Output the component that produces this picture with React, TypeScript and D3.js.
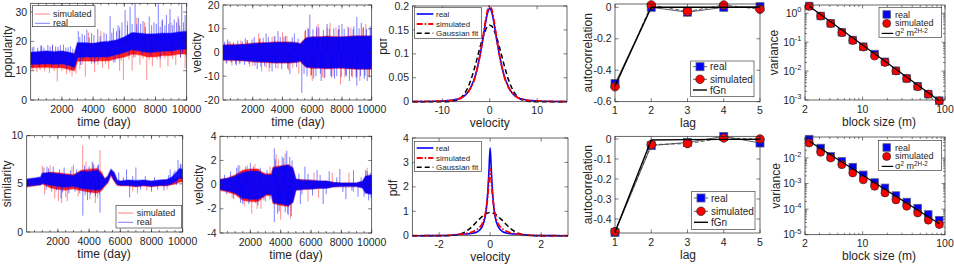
import React from "react";
import * as d3 from "d3";

const FONT = "'Liberation Sans', Arial, Helvetica, sans-serif";
const INK = "#262626";
const BLUE = "#0000ff";
const RED = "#ff0000";

// ---------- row 1, popularity time series (band extents + spikes)
const popT = [0, 500, 1000, 1500, 2000, 2500, 2800, 3000, 3500, 4000, 4500, 5000, 5500, 6000, 6500, 7000, 7500, 8000, 8500, 9000, 9500, 10000];
const popRealHi = [16.3, 16.5, 16.7, 16.5, 16.7, 16.2, 15.8, 19.5, 19.5, 19.3, 19.8, 20.0, 20.5, 21.5, 23.0, 22.8, 22.5, 22.6, 22.8, 22.8, 23.2, 23.5];
const popRealLo = [12.2, 12.2, 12.4, 12.2, 12.4, 11.8, 11.2, 14.5, 14.7, 14.7, 14.7, 14.8, 15.5, 16.2, 17.2, 16.7, 16.2, 16.4, 16.7, 16.7, 17.2, 17.4];
const popSimHi = [16.0, 16.3, 16.5, 16.3, 16.5, 16.0, 15.5, 19.3, 19.3, 19.2, 19.6, 19.8, 20.2, 21.2, 22.6, 22.5, 22.2, 22.2, 22.5, 22.5, 22.6, 23.0];
const popSimLo = [11.0, 11.1, 11.2, 11.0, 11.0, 10.4, 10.0, 13.2, 13.4, 13.2, 13.4, 13.4, 14.2, 14.7, 15.7, 15.4, 14.7, 14.8, 15.2, 15.2, 15.7, 15.7];
const popRealSpikes = [
  [200, 18.2], [700, 18.5], [1100, 18.8], [1600, 18.3], [2100, 18.9], [2400, 18.0], [3050, 23.5], [3300, 22.5],
  [3600, 24.0], [3900, 22.8], [4300, 24.2], [4700, 23.0], [5090, 28.6], [5300, 24.5], [5600, 25.5], [5850, 26.5],
  [6050, 30.7], [6370, 31.8], [6690, 33], [6900, 28], [7200, 27], [7600, 28.5], [7900, 26.5], [8180, 33],
  [8450, 27.5], [8700, 29], [8930, 31], [9200, 27.5], [9450, 28.5], [9680, 33], [9900, 29],
  [100, 18], [450, 17.8], [650, 18.6], [850, 17.9], [1250, 18.2], [1400, 19], [1750, 18.1], [1900, 18.7],
  [2250, 17.9], [2550, 18.3], [2700, 17.5], [3150, 21.5], [3450, 22], [3750, 21.3], [4050, 22.2], [4450, 21.8],
  [4850, 22.5], [5200, 23], [5500, 23.5], [5700, 24], [6200, 25.5], [6500, 26], [6800, 25.8], [7050, 26],
  [7350, 25], [7750, 25.5], [8050, 26], [8300, 25], [8600, 25.5], [8850, 26], [9100, 25.5], [9350, 26.5],
  [9550, 25.5], [9800, 26.5],
  [3200, 12.0], [4100, 12.5], [5400, 12.8], [6600, 14.5], [8300, 14.0], [9600, 14.5],
  [150, 11], [550, 11.2], [950, 11.3], [1350, 11], [1800, 11.2], [2300, 10.8], [2650, 10.3], [3350, 13.5],
  [3850, 13.3], [4350, 13.6], [4900, 13.8], [5650, 14.5], [6300, 15.2], [7150, 15.5], [7700, 15], [8550, 15.6],
  [9050, 15.5], [9750, 16],
];
const popSimSpikes = [
  [400, 9.5], [1200, 9.2], [1700, 6.3], [2300, 8.8], [2650, 8.0], [3150, 10.5], [3500, 8.0], [4100, 9.5],
  [4600, 11.0], [5000, 10.5], [5700, 10.0], [5940, 6.8], [6500, 10.0], [7000, 12.0], [7440, 6.8], [7800, 11.5],
  [8300, 11.0], [8800, 11.5], [9300, 12.0], [9900, 10.8],
  [100, 10], [600, 10.2], [900, 9.8], [1500, 10], [2000, 9.9], [2500, 9.4], [2900, 9], [3300, 12],
  [3900, 12.2], [4300, 12], [4800, 12.4], [5300, 12.8], [5800, 13.2], [6300, 13.8], [6700, 14.5], [7200, 14],
  [7600, 13.6], [8100, 13.8], [8600, 14.2], [9100, 14.0], [9600, 14.5], [9950, 14.8],
  [1400, 18.5], [3700, 23.0], [4500, 23.5], [5700, 25.0], [6200, 27.0], [6800, 28.0], [7300, 26.5], [8400, 27.0],
  [9000, 26.5], [9500, 27.5],
];

// ---------- row 1, velocity time series
const vel1T = [0, 500, 1000, 1500, 2000, 2500, 3000, 3500, 4000, 4500, 5000, 5200, 5400, 5600, 6000, 6500, 7000, 7500, 8000, 8500, 9000, 9500, 10000];
const vel1RealHi = [3.0, 3.1, 3.2, 3.4, 3.7, 3.9, 4.0, 4.2, 4.2, 4.2, 3.9, 3.5, 4.8, 6.0, 6.4, 6.4, 6.6, 6.4, 6.4, 6.6, 6.8, 6.8, 6.8];
const vel1RealLo = [-3.0, -3.1, -3.2, -3.4, -3.7, -3.9, -4.0, -4.2, -4.2, -4.2, -3.9, -3.5, -4.8, -6.0, -6.4, -6.4, -6.6, -6.4, -6.4, -6.6, -6.8, -6.8, -6.8];
const vel1SimHi = [3.2, 3.3, 3.4, 3.6, 3.9, 4.1, 4.2, 4.4, 4.4, 4.4, 4.1, 3.7, 5.0, 6.2, 6.6, 6.6, 6.8, 6.6, 6.6, 6.8, 7.0, 7.0, 7.0];
const vel1SimLo = [-3.2, -3.3, -3.4, -3.6, -3.9, -4.1, -4.2, -4.4, -4.4, -4.4, -4.1, -3.7, -5.0, -6.2, -6.6, -6.6, -6.8, -6.6, -6.6, -6.8, -7.0, -7.0, -7.0];
const vel1RealSpikes = [
  [300, 5.5], [900, -5.5], [1500, 6.0], [2100, 6.5], [2300, -7.0], [2900, 8.0], [3300, -8.0], [3700, 9.0],
  [4200, 7.0], [4500, -9.0], [4800, 8.0], [5300, -17.0], [5840, 16.0], [6100, -11.0], [6300, 11.0], [6600, -12.0],
  [7000, 12.0], [7300, -10.5], [7500, -11.0], [7800, 11.5], [8000, 12.0], [8300, -10.0], [8500, -12.0], [8800, 11.0],
  [9000, 15.0], [9000, -14.0], [9300, 12.5], [9500, -11.0], [9700, -12.0], [9900, 11.0],
  [100, 4.5], [250, -4.6], [400, 4.8], [550, -4.2], [700, 4.3], [850, -4.9], [1000, 5], [1150, -4.5],
  [1300, 4.6], [1450, -5.2], [1650, 5.1], [1750, -4.8], [1950, 5.5], [2150, -5.6], [2450, 5.8], [2550, -6],
  [2700, 6.2], [2800, -5.8], [3050, 6.5], [3150, -6.4], [3450, 6.8], [3550, -6.6], [3850, 6.5], [3950, -7],
  [4100, 6.6], [4350, -6.8], [4650, 6.4], [4950, -6.2], [5050, 5.8],
  [5450, -9], [5550, 9.5], [5650, -10], [5750, 10], [5950, -9.5], [6050, 9.8], [6250, -10], [6450, 10.5],
  [6550, -9], [6750, 9.5], [6850, -10.5], [7150, 10], [7250, -9.8], [7450, 10.2], [7650, -10], [7750, 9.6],
  [7950, -10.4], [8150, 10], [8250, -9.5], [8450, 10.5], [8650, -10], [8750, 9.8], [8950, -10.5], [9150, 10.2],
  [9250, -10], [9450, 10.6], [9550, -9.8], [9650, 10], [9850, -10.5], [9950, 10],
];
const vel1SimSpikes = [
  [600, -5.5], [1200, 5.0], [1800, -6.0], [2400, 8.0], [2600, -8.0], [3100, -8.0], [3500, 7.0], [4000, 8.5],
  [4400, -7.5], [5100, -9.0], [5700, 10.5], [6000, -12.0], [6400, 12.0], [6800, -11.0], [7200, 12.5], [7600, 10.5],
  [7900, -13.5], [8400, 11.0], [8700, -10.5], [9200, -12.0], [9600, 12.0], [9800, -10.0],
  [200, -4.6], [500, 4.5], [1100, -5], [1600, 5.2], [2000, -5.6], [2500, 6], [2900, -6.5], [3300, 6.6],
  [3700, -6.8], [4300, 6.9], [4700, -6.5], [5500, 9], [5900, -10], [6300, 10], [6700, -10.5], [7000, 10.5],
  [7400, -10], [7800, 10], [8200, -10.5], [8600, 10.5], [9000, -10], [9400, 10.5],
];

// ---------- row 2, similarity time series
const simT = [0, 500, 900, 1000, 1500, 2000, 2500, 3000, 3500, 4000, 4500, 4800, 5000, 5200, 5400, 5600, 5800, 6000, 6500, 7000, 7500, 8000, 8500, 9000, 9300, 9600, 9800, 10000];
const simRealHi = [5.5, 5.6, 5.7, 6.1, 6.15, 6.05, 5.95, 5.85, 6.3, 6.25, 6.4, 6.0, 5.5, 5.8, 6.5, 6.2, 5.4, 5.3, 5.4, 5.35, 5.4, 5.3, 5.4, 5.45, 5.7, 6.2, 6.6, 6.5];
const simRealLo = [4.75, 4.85, 4.9, 5.05, 4.85, 4.75, 4.65, 4.75, 4.55, 4.45, 4.35, 4.5, 4.85, 5.2, 6.0, 5.4, 4.95, 4.85, 4.85, 4.75, 4.85, 4.75, 4.85, 4.85, 5.0, 5.3, 5.6, 5.5];
const simSimHi = [5.4, 5.5, 5.6, 6.05, 6.2, 6.15, 6.05, 5.95, 6.4, 6.5, 6.6, 6.2, 5.5, 5.7, 6.4, 6.1, 5.3, 5.2, 5.3, 5.2, 5.3, 5.2, 5.3, 5.4, 5.5, 5.6, 5.8, 5.7];
const simSimLo = [4.7, 4.8, 4.9, 5.0, 4.6, 4.45, 4.35, 4.5, 4.3, 4.15, 4.05, 4.3, 4.75, 5.1, 5.9, 5.3, 4.85, 4.8, 4.8, 4.7, 4.8, 4.7, 4.8, 4.8, 4.9, 5.0, 5.2, 5.2];
const simRealSpikes = [
  [3600, 1.7], [4700, 2.0], [6600, 3.6], [6400, 6.5], [7000, 6.7], [9700, 7.5], [9200, 6.5], [9900, 7.0],
  [1300, 6.8], [2200, 3.5], [3900, 3.3], [4200, 7.3], [4600, 7.0], [8000, 4.2], [8800, 4.3], [5900, 6.2],
  [1100, 6.7], [1250, 4.4], [1400, 6.6], [1600, 4.2], [1700, 6.8], [1900, 4.3], [2100, 6.5], [2300, 4.1],
  [2400, 6.7], [2700, 4.0], [2800, 6.4], [3100, 4.2], [3200, 6.5], [3400, 4.0], [3700, 6.9], [3750, 3.8],
  [4000, 6.8], [4100, 3.9], [4300, 7.0], [4400, 3.7], [4550, 6.9], [4650, 3.9], [6200, 5.7], [6800, 5.8],
  [7300, 4.4], [7600, 5.8], [8200, 5.7], [8400, 4.4], [9100, 5.9], [9500, 6.4], [9600, 4.9], [9850, 7.1],
];
const simSimSpikes = [
  [3590, 9.0], [4700, 8.5], [2030, 3.2], [2240, 3.0], [1800, 3.5], [2600, 3.2], [4400, 3.0], [1000, 6.9],
  [3000, 7.0], [3800, 7.3], [6800, 4.2], [7100, 4.0], [9400, 6.2],
  [1150, 3.9], [1500, 6.9], [2500, 3.6], [2900, 6.8], [3300, 3.7], [4050, 3.4], [4250, 7.2], [4550, 3.5],
  [7700, 4.3], [9000, 4.4],
];

// ---------- row 2, velocity time series
const vel2T = [0, 500, 1000, 1500, 2000, 2500, 2800, 3000, 3400, 3500, 4000, 4500, 4800, 5000, 5500, 6000, 6500, 7000, 7500, 8000, 8500, 9000, 9400, 9600, 10000];
const vel2RealHi = [0.4, 0.5, 0.7, 1.0, 1.1, 1.1, 0.9, 0.8, 0.8, 1.35, 1.5, 1.6, 1.35, 0.45, 0.35, 0.35, 0.3, 0.3, 0.18, 0.14, 0.14, 0.14, 0.28, 0.7, 0.8];
const vel2RealLo = [-0.4, -0.5, -0.7, -1.1, -1.2, -1.2, -1.0, -0.8, -0.8, -1.45, -1.6, -1.7, -1.45, -0.45, -0.35, -0.35, -0.3, -0.3, -0.18, -0.14, -0.14, -0.14, -0.28, -0.7, -0.8];
const vel2SimHi = [0.45, 0.55, 0.8, 1.2, 1.3, 1.3, 1.0, 0.9, 0.9, 1.45, 1.55, 1.65, 1.4, 0.45, 0.4, 0.35, 0.3, 0.28, 0.18, 0.14, 0.14, 0.14, 0.24, 0.65, 0.75];
const vel2SimLo = [-0.45, -0.6, -0.8, -1.3, -1.4, -1.4, -1.1, -0.9, -0.9, -1.55, -1.7, -1.8, -1.45, -0.45, -0.4, -0.35, -0.3, -0.28, -0.18, -0.14, -0.14, -0.14, -0.24, -0.65, -0.75];
const vel2RealSpikes = [
  [3580, 3.0], [3580, -3.1], [4400, 2.8], [4500, -2.5], [4700, -2.6], [4100, 2.3], [3800, -2.4], [2000, 1.8],
  [1500, -1.6], [2500, -1.7], [1200, 1.6], [5600, 1.5], [5300, -1.6], [6800, -1.6], [6400, 1.2], [7200, 1.1],
  [7900, 1.3], [8300, -1.2], [8800, 1.2], [9100, -1.0], [9600, 1.2], [9800, -1.3], [9900, 1.0],
  [300, 0.8], [450, -0.8], [700, 1.1], [900, -1.2], [1100, 1.4], [1350, -1.5], [1700, 1.5], [1900, -1.6],
  [2200, 1.5], [2350, -1.5], [2650, 1.4], [2900, -1.3], [3100, 1.2], [3300, -1.2], [3650, 2.1], [3900, -2.2],
  [4200, 2.2], [4300, -2.3], [4600, 2.3], [4750, 2.0], [5200, 0.9], [5400, -0.8], [5800, 0.9], [6100, -0.9],
  [6600, 0.8], [7000, -0.8], [7700, 0.6], [8100, -0.6], [8700, -0.5], [9300, 0.6], [9500, -1.0], [9700, 1.1],
  [9950, -1.1],
];
const vel2SimSpikes = [
  [2090, -2.4], [2700, -2.0], [1800, 1.6], [3300, 1.5], [3700, 2.5], [4000, -2.9], [4300, 2.6], [4650, -2.8],
  [5800, -1.4], [6500, -1.1], [7400, 1.0], [8500, 1.0], [9700, 1.4],
  [800, -1.1], [1300, 1.6], [1600, -1.8], [2300, 1.7], [2450, -2.0], [3000, -1.4], [3850, 2.1], [4450, -2.4],
  [6200, 1.0], [8800, -0.6],
];

// ---------- pdfs
const pdf1X = [-16.3, -14, -12, -10, -8, -7, -6, -5, -4, -3, -2.5, -2, -1.5, -1, -0.5, 0, 0.5, 1, 1.5, 2, 2.5, 3, 4, 5, 6, 7, 8, 10, 12, 14, 16.3];
const pdf1Real = [0.0003, 0.0005, 0.0008, 0.0015, 0.003, 0.005, 0.008, 0.015, 0.03, 0.056, 0.076, 0.1, 0.127, 0.158, 0.184, 0.195, 0.184, 0.158, 0.127, 0.1, 0.076, 0.056, 0.03, 0.015, 0.008, 0.005, 0.003, 0.0015, 0.0008, 0.0005, 0.0003];
const pdf1Sim = [0.0003, 0.0005, 0.0008, 0.0015, 0.003, 0.005, 0.008, 0.016, 0.029, 0.054, 0.075, 0.1, 0.13, 0.163, 0.19, 0.2, 0.19, 0.163, 0.13, 0.1, 0.075, 0.054, 0.029, 0.016, 0.008, 0.005, 0.003, 0.0015, 0.0008, 0.0005, 0.0003];
const pdf1Gauss = [0, 0, 0, 0, 0.001, 0.003, 0.009, 0.022, 0.045, 0.078, 0.097, 0.116, 0.133, 0.147, 0.157, 0.16, 0.157, 0.147, 0.133, 0.116, 0.097, 0.078, 0.045, 0.022, 0.009, 0.003, 0.001, 0, 0, 0, 0];

const pdf2X = [-3.05, -2.5, -2, -1.5, -1.2, -1, -0.8, -0.6, -0.5, -0.4, -0.3, -0.2, -0.15, -0.1, -0.05, 0, 0.05, 0.1, 0.15, 0.2, 0.3, 0.4, 0.5, 0.6, 0.8, 1, 1.2, 1.5, 2, 2.5, 3.05];
const pdf2Real = [0, 0.002, 0.005, 0.02, 0.06, 0.07, 0.08, 0.12, 0.16, 0.24, 0.4, 0.75, 1.1, 1.7, 2.6, 3.6, 2.6, 1.7, 1.1, 0.75, 0.4, 0.24, 0.16, 0.12, 0.08, 0.07, 0.05, 0.02, 0.005, 0.002, 0];
const pdf2Sim = [0, 0.002, 0.006, 0.025, 0.06, 0.08, 0.12, 0.2, 0.27, 0.36, 0.52, 0.85, 1.15, 1.55, 2.15, 2.75, 2.15, 1.55, 1.15, 0.85, 0.52, 0.36, 0.27, 0.2, 0.12, 0.08, 0.06, 0.025, 0.006, 0.002, 0];
const pdf2Gauss = [0, 0, 0, 0.015, 0.066, 0.15, 0.29, 0.49, 0.6, 0.7, 0.8, 0.88, 0.91, 0.93, 0.945, 0.95, 0.945, 0.93, 0.91, 0.88, 0.8, 0.7, 0.6, 0.49, 0.29, 0.15, 0.066, 0.015, 0, 0, 0];

// ---------- autocorrelation
const lags = [1, 2, 3, 4, 5];
const acf1Real = [-0.485, 0.0, -0.031, 0.0, 0.004];
const acf1Sim = [-0.505, 0.015, -0.027, 0.015, -0.0125];
const acf1Fgn = [-0.5, 0.0, 0.0, 0.0, 0.0];
const acf2Real = [-0.467, -0.033, -0.017, 0.013, -0.02];
const acf2Sim = [-0.463, -0.028, -0.023, 0.005, 0.0];
const acf2Fgn = [-0.465, -0.005, -0.003, -0.002, -0.002];

// ---------- aggregated variance
const blockM = [2.25, 3.1, 4.1, 5.6, 7.6, 10.2, 14, 18.7, 25.4, 34.3, 46.6, 62.7, 85.3];
const var1Real = [1.79, 0.81, 0.45, 0.22, 0.119, 0.07, 0.039, 0.021, 0.0103, 0.0056, 0.003, 0.0016, 0.00095];
const var1Sim = [1.75, 0.8, 0.44, 0.215, 0.115, 0.068, 0.033, 0.02, 0.0101, 0.0055, 0.0029, 0.0016, 0.00094];
const var2Real = [0.055, 0.0246, 0.0116, 0.0074, 0.0044, 0.0022, 0.0011, 0.00068, 0.00034, 0.00019, 0.00011, 0.000062, 0.000037];
const var2Sim = [0.0386, 0.0167, 0.01, 0.0055, 0.0026, 0.0014, 0.00078, 0.00043, 0.00023, 0.00013, 0.000071, 0.000037, 0.000025];
const fitM = [2.25, 85.3];
const var1Fit = [1.75, 0.00095];
const var2Fit = [0.045, 0.000027];

const timeTicks = [2000, 4000, 6000, 8000, 10000];
const timeMinor = d3.range(500, 10000, 500);

// axes boxes (pixel layout of each subplot)
const B1 = { l: 30.7, r: 186.7, t: 3.3, b: 100 };
const B2 = { l: 223, r: 371.7, t: 5, b: 100 };
const B3 = { l: 412.5, r: 567, t: 6, b: 101.7 };
const B4 = { l: 615, r: 760, t: 4, b: 101.7 };
const B5 = { l: 805, r: 945, t: 5, b: 100 };
const B6 = { l: 26.7, r: 182.7, t: 135.7, b: 232 };
const B7 = { l: 220, r: 371.7, t: 136.3, b: 233 };
const B8 = { l: 412.3, r: 568, t: 138, b: 235.7 };
const B9 = { l: 615, r: 760, t: 136.3, b: 233 };
const B10 = { l: 805, r: 945, t: 137, b: 234.7 };

function Axes({ box, x, y, xTicks, yTicks, xMinor = [], yMinor = [], xFmt, yFmt, xLabel, xLabelX, yLabel, yLabelX, yLabelY, clip }: any) {
  const tl = 3.5;
  const ml = 2;
  const tick = (key: string, x1: number, y1: number, x2: number, y2: number) => (
    <line key={key} x1={x1} y1={y1} x2={x2} y2={y2} stroke={INK} strokeWidth={0.6} />
  );
  return (
    <g fill={INK}>
      {xMinor.map((v: number) => (
        <g key={"xm" + v}>
          {tick("a", x(v), box.b, x(v), box.b - ml)}
          {tick("b", x(v), box.t, x(v), box.t + ml)}
        </g>
      ))}
      {yMinor.map((v: number) => (
        <g key={"ym" + v}>
          {tick("a", box.l, y(v), box.l + ml, y(v))}
          {tick("b", box.r, y(v), box.r - ml, y(v))}
        </g>
      ))}
      {xTicks.map((v: number) => (
        <g key={"xt" + v}>
          {tick("a", x(v), box.b, x(v), box.b - tl)}
          {tick("b", x(v), box.t, x(v), box.t + tl)}
          <text x={x(v)} y={box.b + 12.5} textAnchor="middle" fontSize={10.5}>
            {xFmt ? xFmt(v) : String(v)}
          </text>
        </g>
      ))}
      {yTicks.map((v: number) => (
        <g key={"yt" + v}>
          {tick("a", box.l, y(v), box.l + tl, y(v))}
          {tick("b", box.r, y(v), box.r - tl, y(v))}
          <text x={box.l - 3.5} y={y(v) + 3.6} textAnchor="end" fontSize={10.5}>
            {yFmt ? yFmt(v) : String(v)}
          </text>
        </g>
      ))}
      <rect x={box.l} y={box.t} width={box.r - box.l} height={box.b - box.t} fill="none" stroke={INK} strokeWidth={0.7} />
      <text x={xLabelX} y={box.b + 25.5} textAnchor="middle" fontSize={12}>
        {xLabel}
      </text>
      <g clipPath={clip}>
        <text transform={`translate(${yLabelX},${yLabelY}) rotate(-90)`} textAnchor="middle" fontSize={12}>
          {yLabel}
        </text>
      </g>
    </g>
  );
}

function Band({ t, lo, hi, spikes, x, y, color, bandOpacity, spikeOpacity }: any) {
  const area = d3
    .area<number>()
    .x((d) => x(d))
    .y0((_, i) => y(lo[i]))
    .y1((_, i) => y(hi[i]));
  return (
    <g>
      <path d={area(t) ?? ""} fill={color} fillOpacity={bandOpacity} stroke={color} strokeOpacity={0.35} strokeWidth={1.6} />
      {spikes.map(([s, v]: number[], k: number) => {
        const i = Math.min(t.length - 1, d3.bisectLeft(t, s));
        const mid = (hi[i] + lo[i]) / 2;
        return <line key={k} x1={x(s)} x2={x(s)} y1={y(mid)} y2={y(v)} stroke={color} strokeOpacity={spikeOpacity} strokeWidth={1} />;
      })}
    </g>
  );
}

function LineLegend({ x, y, w, h, rows, lx1, lx2, tx, fs }: any) {
  return (
    <g>
      <rect x={x} y={y} width={w} height={h} fill="#fff" stroke={INK} strokeWidth={0.6} />
      {rows.map((r: any) => (
        <g key={r.label}>
          <line x1={lx1} x2={lx2} y1={r.y} y2={r.y} stroke={r.color} strokeOpacity={r.opacity ?? 1} strokeWidth={r.width ?? 1} strokeDasharray={r.dash} />
          <text x={tx} y={r.y} dominantBaseline="central" fontSize={fs} fill={INK}>
            {r.label}
          </text>
        </g>
      ))}
    </g>
  );
}

function TimePanel({ box, yDomain, yTicks, real, sim, yLabel, yLabelX, xLabelX, legend }: any) {
  const x = d3.scaleLinear().domain([0, 10000]).range([box.l, box.r]);
  const y = d3.scaleLinear().domain(yDomain).range([box.b, box.t]);
  const id = "clip" + Math.round(box.l) + "_" + Math.round(box.t);
  return (
    <g>
      <clipPath id={id}>
        <rect x={box.l} y={box.t} width={box.r - box.l} height={box.b - box.t} />
      </clipPath>
      <g clipPath={`url(#${id})`}>
        <Band {...sim} x={x} y={y} color={RED} bandOpacity={0.85} spikeOpacity={0.45} />
        <Band {...real} x={x} y={y} color={BLUE} bandOpacity={0.92} spikeOpacity={0.5} />
      </g>
      <Axes box={box} x={x} y={y} xTicks={timeTicks} xMinor={timeMinor} yTicks={yTicks} xLabel="time (day)" xLabelX={xLabelX}
        yLabel={yLabel} yLabelX={yLabelX} yLabelY={(box.t + box.b) / 2} />
      {legend}
    </g>
  );
}

function PdfPanel({ box, xDomain, yDomain, xTicks, yTicks, xs, real, sim, gauss, yLabelX, yLabelY, clip, leg }: any) {
  const x = d3.scaleLinear().domain(xDomain).range([box.l, box.r]);
  const y = d3.scaleLinear().domain(yDomain).range([box.b, box.t]);
  const line = (vals: number[]) =>
    d3
      .line<number>()
      .x((d) => x(d))
      .y((_, i) => y(vals[i]))
      .curve(d3.curveMonotoneX)(xs) ?? "";
  return (
    <g>
      <path d={line(gauss)} fill="none" stroke="#000" strokeWidth={1.5} strokeDasharray="5,3" />
      <path d={line(real)} fill="none" stroke={BLUE} strokeWidth={1.6} />
      <path d={line(sim)} fill="none" stroke={RED} strokeWidth={1.8} strokeDasharray="6,2,1.5,2" />
      <Axes box={box} x={x} y={y} xTicks={xTicks} yTicks={yTicks} xLabel="velocity" xLabelX={(box.l + box.r) / 2}
        yLabel="pdf" yLabelX={yLabelX} yLabelY={yLabelY} clip={clip} />
      <LineLegend {...leg} fs={8} rows={[
        { y: leg.ys[0], label: "real", color: BLUE, width: 1.6 },
        { y: leg.ys[1], label: "simulated", color: RED, width: 1.8, dash: "6,2,1.5,2" },
        { y: leg.ys[2], label: "Gaussian fit", color: "#000", width: 1.5, dash: "5,3" },
      ]} />
    </g>
  );
}

function Square({ cx, cy, s }: any) {
  return <rect x={cx - s / 2} y={cy - s / 2} width={s} height={s} fill={BLUE} stroke="#5a5a7a" strokeWidth={0.8} />;
}
function Dot({ cx, cy, r }: any) {
  return <circle cx={cx} cy={cy} r={r} fill={RED} stroke="#2a2a2a" strokeWidth={0.7} />;
}

function AcfPanel({ box, yDomain, yTicks, real, sim, fgn, leg }: any) {
  const x = d3.scaleLinear().domain([1, 5]).range([box.l, box.r]);
  const y = d3.scaleLinear().domain(yDomain).range([box.b, box.t]);
  const line = (vals: number[]) =>
    d3
      .line<number>()
      .x((d) => x(d))
      .y((_, i) => y(vals[i]))(lags) ?? "";
  return (
    <g>
      <path d={line(real)} fill="none" stroke="#333" strokeWidth={0.8} />
      {lags.map((l, i) => <Square key={"s" + l} cx={x(l)} cy={y(real[i])} s={8} />)}
      <path d={line(sim)} fill="none" stroke="#333" strokeWidth={0.8} strokeDasharray="4,2" />
      {lags.map((l, i) => <Dot key={"c" + l} cx={x(l)} cy={y(sim[i])} r={4.3} />)}
      <path d={line(fgn)} fill="none" stroke="#000" strokeWidth={1.4} />
      <Axes box={box} x={x} y={y} xTicks={lags} yTicks={yTicks} xLabel="lag" xLabelX={688}
        yLabel="autocorrelation" yLabelX={591.5} yLabelY={(box.t + box.b) / 2} />
      <g>
        <rect x={leg.x} y={leg.y} width={leg.w} height={leg.h} fill="#fff" stroke={INK} strokeWidth={0.6} />
        <line x1={leg.lx1} x2={leg.lx2} y1={leg.ys[0]} y2={leg.ys[0]} stroke="#333" strokeWidth={0.8} />
        <Square cx={(leg.lx1 + leg.lx2) / 2} cy={leg.ys[0]} s={8} />
        <line x1={leg.lx1} x2={leg.lx2} y1={leg.ys[1]} y2={leg.ys[1]} stroke="#333" strokeWidth={0.8} />
        <Dot cx={(leg.lx1 + leg.lx2) / 2} cy={leg.ys[1]} r={4.3} />
        <line x1={leg.lx1} x2={leg.lx2} y1={leg.ys[2]} y2={leg.ys[2]} stroke="#000" strokeWidth={1.4} />
        {["real", "simulated", "fGn"].map((s, i) => (
          <text key={s} x={leg.tx} y={leg.ys[i]} dominantBaseline="central" fontSize={10} fill={INK}>{s}</text>
        ))}
      </g>
    </g>
  );
}

function LogPanel({ box, yDomain, yTicks, yMinor, real, sim, fit, leg, yLabelX }: any) {
  const x = d3.scaleLog().domain([2, 100]).range([box.l, box.r]);
  const y = d3.scaleLog().domain(yDomain).range([box.b, box.t]);
  const xMinor = [3, 4, 5, 6, 7, 8, 9, 20, 30, 40, 50, 60, 70, 80, 90];
  const line = d3
    .line<number>()
    .x((d) => x(d))
    .y((_, i) => y(fit[i]));
  const expFmt = (v: number) => (
    <>
      10<tspan dy={-4.5} fontSize={7.5}>{String(Math.round(Math.log10(v)))}</tspan>
    </>
  );
  return (
    <g>
      {blockM.map((m, i) => <Square key={"s" + i} cx={x(m)} cy={y(real[i])} s={7.5} />)}
      {blockM.map((m, i) => <Dot key={"c" + i} cx={x(m)} cy={y(sim[i])} r={4} />)}
      <path d={line(fitM) ?? ""} fill="none" stroke="#000" strokeWidth={1.2} />
      <Axes box={box} x={x} y={y} xTicks={[2, 10, 100]} xMinor={xMinor} yTicks={yTicks} yMinor={yMinor} yFmt={expFmt}
        xLabel="block size (m)" xLabelX={879} yLabel="variance" yLabelX={yLabelX} yLabelY={(box.t + box.b) / 2} />
      <g>
        <rect x={leg.x} y={leg.y} width={leg.w} height={leg.h} fill="#fff" stroke={INK} strokeWidth={0.6} />
        <Square cx={leg.mx} cy={leg.ys[0]} s={7.5} />
        <Dot cx={leg.mx} cy={leg.ys[1]} r={4} />
        <line x1={leg.mx - 5} x2={leg.mx + 6.6} y1={leg.ys[2]} y2={leg.ys[2]} stroke="#000" strokeWidth={1.2} />
        <text x={leg.tx} y={leg.ys[0]} dominantBaseline="central" fontSize={9} fill={INK}>real</text>
        <text x={leg.tx} y={leg.ys[1]} dominantBaseline="central" fontSize={9} fill={INK}>simulated</text>
        <text x={leg.tx} y={leg.ys[2] + 2.8} fontSize={9} fill={INK}>
          σ<tspan dy={-3} fontSize={6.3}>2</tspan>
          <tspan dy={3}> m</tspan>
          <tspan dy={-3} fontSize={6.3}>2H-2</tspan>
        </text>
      </g>
    </g>
  );
}

const decMinor = (lo: number, hi: number) =>
  d3.range(lo, hi).flatMap((e) => [2, 3, 4, 5, 6, 7, 8, 9].map((k) => k * Math.pow(10, e)));

export default function App() {
  return (
    <svg width={954} height={266} style={{ position: "absolute", left: 0, top: 0, background: "#fff", fontFamily: FONT }}>
      <defs>
        <clipPath id="pdf1clip">
          <rect x={380} y={0} width={200} height={133} />
        </clipPath>
      </defs>

      <TimePanel box={B1} yDomain={[0, 33]} yTicks={[0, 10, 20, 30]} yLabel="popularity" yLabelX={11.5} xLabelX={104}
        real={{ t: popT, lo: popRealLo, hi: popRealHi, spikes: popRealSpikes }}
        sim={{ t: popT, lo: popSimLo, hi: popSimHi, spikes: popSimSpikes }}
        legend={<LineLegend x={32.3} y={5.7} w={62.7} h={21} lx1={35} lx2={50} tx={53} fs={9} rows={[
          { y: 14, label: "simulated", color: RED, opacity: 0.5 },
          { y: 23.3, label: "real", color: BLUE, opacity: 0.5 },
        ]} />} />

      <TimePanel box={B2} yDomain={[-20, 20]} yTicks={[-20, -10, 0, 10, 20]} yLabel="velocity" yLabelX={201} xLabelX={298}
        real={{ t: vel1T, lo: vel1RealLo, hi: vel1RealHi, spikes: vel1RealSpikes }}
        sim={{ t: vel1T, lo: vel1SimLo, hi: vel1SimHi, spikes: vel1SimSpikes }} />

      <PdfPanel box={B3} xDomain={[-16.3, 16.3]} yDomain={[0, 0.2]} xTicks={[-10, 0, 10]} yTicks={[0, 0.05, 0.1, 0.15, 0.2]}
        xs={pdf1X} real={pdf1Real} sim={pdf1Sim} gauss={pdf1Gauss} yLabelX={387} yLabelY={46.5} clip="url(#pdf1clip)"
        leg={{ x: 414.3, y: 7.3, w: 67.4, h: 31, lx1: 416.7, lx2: 433.3, tx: 436, ys: [14, 24, 33.3] }} />

      <AcfPanel box={B4} yDomain={[-0.6, 0.021]} yTicks={[-0.6, -0.4, -0.2, 0]} real={acf1Real} sim={acf1Sim} fgn={acf1Fgn}
        leg={{ x: 690.7, y: 61, w: 63.3, h: 35.7, lx1: 693, lx2: 707, tx: 710, ys: [66.7, 79.3, 90] }} />

      <LogPanel box={B5} yDomain={[1e-3, 1.94]} yTicks={[1e-3, 1e-2, 1e-1, 1]} yMinor={decMinor(-3, 0)} real={var1Real} sim={var1Sim}
        fit={var1Fit} yLabelX={778} leg={{ x: 879, y: 7.3, w: 62.7, h: 30.2, mx: 886.7, tx: 895, ys: [14.5, 23.4, 33.4] }} />

      <TimePanel box={B6} yDomain={[0, 10]} yTicks={[0, 5, 10]} yLabel="similarity" yLabelX={11} xLabelX={104}
        real={{ t: simT, lo: simRealLo, hi: simRealHi, spikes: simRealSpikes }}
        sim={{ t: simT, lo: simSimLo, hi: simSimHi, spikes: simSimSpikes }}
        legend={<LineLegend x={116} y={205.3} w={65.7} h={22.7} lx1={118} lx2={133.3} tx={136.7} fs={9} rows={[
          { y: 213, label: "simulated", color: RED, opacity: 0.5 },
          { y: 222.3, label: "real", color: BLUE, opacity: 0.5 },
        ]} />} />

      <TimePanel box={B7} yDomain={[-4, 4]} yTicks={[-4, -2, 0, 2, 4]} yLabel="velocity" yLabelX={203} xLabelX={296}
        real={{ t: vel2T, lo: vel2RealLo, hi: vel2RealHi, spikes: vel2RealSpikes }}
        sim={{ t: vel2T, lo: vel2SimLo, hi: vel2SimHi, spikes: vel2SimSpikes }} />

      <PdfPanel box={B8} xDomain={[-3.05, 3.05]} yDomain={[0, 4]} xTicks={[-2, 0, 2]} yTicks={[0, 1, 2, 3, 4]}
        xs={pdf2X} real={pdf2Real} sim={pdf2Sim} gauss={pdf2Gauss} yLabelX={397} yLabelY={188}
        leg={{ x: 414.3, y: 141.3, w: 67.4, h: 30, lx1: 416.7, lx2: 433.3, tx: 436, ys: [148, 158, 167.3] }} />

      <AcfPanel box={B9} yDomain={[-0.47, 0.0135]} yTicks={[-0.4, -0.3, -0.2, -0.1, 0]} real={acf2Real} sim={acf2Sim} fgn={acf2Fgn}
        leg={{ x: 691.7, y: 191.3, w: 63.3, h: 38.4, lx1: 694, lx2: 708, tx: 711, ys: [198, 211.3, 222.3] }} />

      <LogPanel box={B10} yDomain={[1e-5, 0.0662]} yTicks={[1e-5, 1e-4, 1e-3, 1e-2]} yMinor={decMinor(-5, -1).filter((v) => v < 0.066)}
        real={var2Real} sim={var2Sim} fit={var2Fit} yLabelX={780}
        leg={{ x: 878.3, y: 140.3, w: 63.4, h: 30.2, mx: 886.7, tx: 895, ys: [147.5, 156.4, 166.4] }} />
    </svg>
  );
}
